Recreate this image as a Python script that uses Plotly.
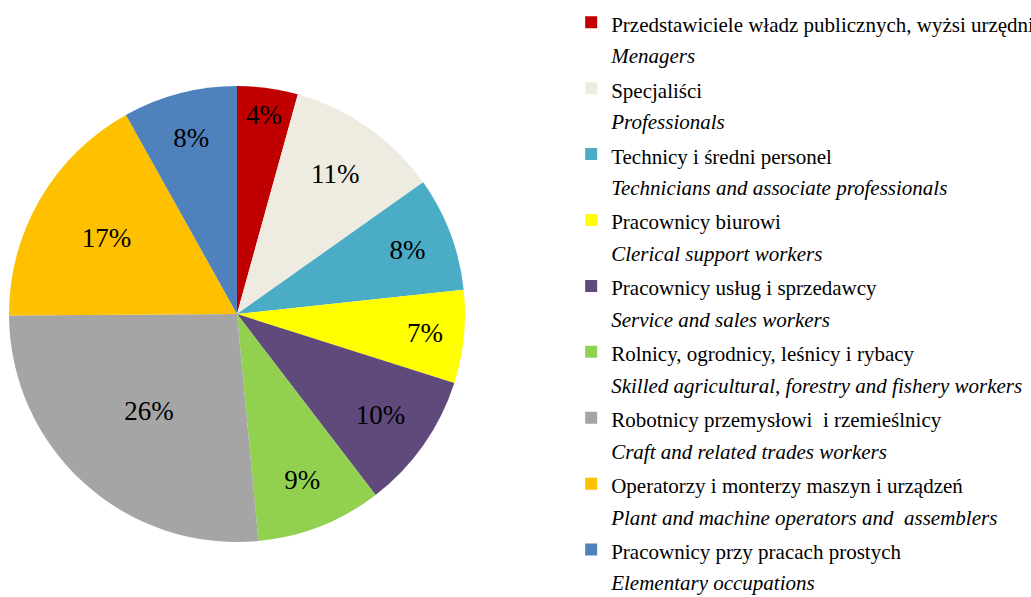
import plotly.graph_objects as go

# Data (shares in %)
pl_names = [
    "Przedstawiciele władz publicznych, wyżsi urzędnicy i kierownicy",
    "Specjaliści",
    "Technicy i średni personel",
    "Pracownicy biurowi",
    "Pracownicy usług i sprzedawcy",
    "Rolnicy, ogrodnicy, leśnicy i rybacy",
    "Robotnicy przemysłowi  i rzemieślnicy",
    "Operatorzy i monterzy maszyn i urządzeń",
    "Pracownicy przy pracach prostych",
]
en_names = [
    "Menagers",
    "Professionals",
    "Technicians and associate professionals",
    "Clerical support workers",
    "Service and sales workers",
    "Skilled agricultural, forestry and fishery workers",
    "Craft and related trades workers",
    "Plant and machine operators and  assemblers",
    "Elementary occupations",
]
shares = [4.3, 10.9, 8.1, 6.6, 9.7, 8.9, 26.4, 17.0, 8.1]
colors = ["#C00000", "#EEECE1", "#4BACC6", "#FFFF00", "#604A7B",
          "#92D050", "#A5A5A5", "#FFC000", "#4F81BD"]

SERIF = "Liberation Serif, Times New Roman, DejaVu Serif, serif"

labels = [
    f"<span style='font-size:21px'>{p}</span><br>"
    f"<span style='font-size:21px'><i>{e}</i></span>"
    for p, e in zip(pl_names, en_names)
]

W, H = 1031, 597
cx, cy, R = 237, 314, 228

fig = go.Figure(go.Pie(
    labels=labels,
    values=shares,
    sort=False,
    direction="clockwise",
    rotation=0,
    marker=dict(colors=colors, line=dict(width=0)),
    texttemplate="%{percent:.0%}",
    textposition="inside",
    insidetextorientation="horizontal",
    textfont=dict(family=SERIF, size=27, color="black"),
    domain=dict(x=[(cx - R) / W, (cx + R) / W],
                y=[(H - cy - R) / H, (H - cy + R) / H]),
    hoverinfo="label+percent",
))

fig.update_layout(
    width=W, height=H,
    margin=dict(l=0, r=0, t=0, b=0, autoexpand=False),
    paper_bgcolor="white",
    plot_bgcolor="white",
    showlegend=True,
    legend=dict(
        x=0.554, y=1.0, xanchor="left", yanchor="top",
        valign="top",
        font=dict(family=SERIF, size=24.2, color="black"),
        bgcolor="rgba(0,0,0,0)",
        borderwidth=0,
        traceorder="normal",
    ),
    font=dict(family=SERIF),
)

fig.write_html(
    "out.html",
    config={"displayModeBar": False},
    post_script="document.body.style.margin='0';document.body.style.padding='0';",
)
